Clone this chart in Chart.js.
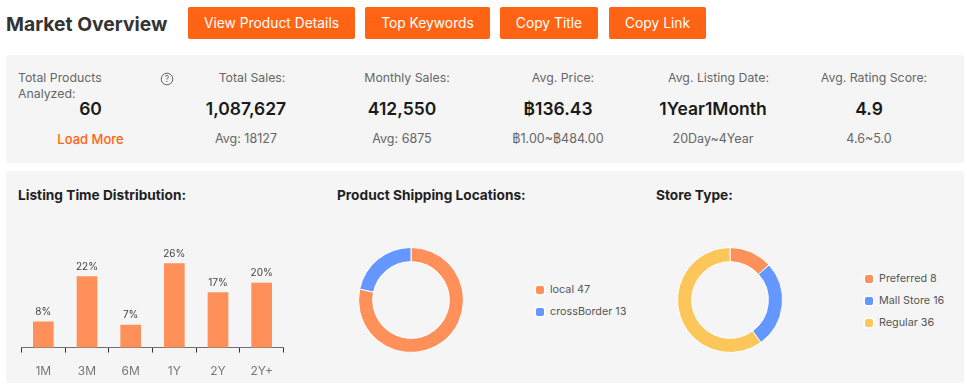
<!DOCTYPE html>
<html>
<head>
<meta charset="utf-8">
<script src="https://cdn.jsdelivr.net/npm/chart.js@4"></script>
<style>
    html, body { margin: 0; padding: 0; background: #fff; }
    body { position: relative; width: 967px; height: 392px; overflow: hidden; font-family: Inter, "Noto Sans", sans-serif; }
    .abs { position: absolute; white-space: nowrap; }
    .heading { left: 6px; top: 11px; font-size: 19.3px; line-height: 26px; font-weight: 700; color: #333; }
    .btn { position: absolute; top: 7px; height: 32px; line-height: 32px; background: #ff6414; color: #fff; font-size: 13.8px; text-align: center; border-radius: 2px; }
    .panel { position: absolute; background: #f5f5f5; border-radius: 3px; left: 6px; width: 958px; }
    .label { font-size: 12.3px; line-height: 15px; color: #666; transform: translateX(-50%); }
    .value { font-size: 17.5px; line-height: 22px; font-weight: 600; color: #1a1a1a; transform: translateX(-50%); }
    .sub { font-size: 12.5px; line-height: 16px; color: #666; transform: translateX(-50%); }
    .title { top: 187px; font-size: 13.7px; line-height: 17px; font-weight: 700; color: #1f1f1f; }
    .legend-item { font-size: 10.8px; line-height: 14px; color: #555; }
    .legend-item i { position: absolute; left: 0; top: 3px; width: 8px; height: 8px; border-radius: 2px; box-shadow: 0 0 0 1.5px #fff; }
    .legend-item span { margin-left: 14px; }
    canvas { position: absolute; }
</style>
</head>
<body>
<div class="abs heading">Market Overview</div>
<div id="buttons"></div>
<div class="panel" style="top:55px;height:108px"></div>
<div class="panel" style="top:171px;height:212px"></div>
<div id="stats"></div>

<div class="abs label" style="left:18px;top:70px;transform:none;line-height:15.5px">Total Products<br>Analyzed:</div>
<svg class="abs" style="left:160px;top:72px" width="14" height="14" viewBox="0 0 14 14">
    <circle cx="7" cy="7" r="5.8" fill="none" stroke="#666" stroke-width="1"/>
    <text x="7" y="10" font-size="8.5" text-anchor="middle" fill="#666">?</text>
</svg>

<div class="abs title" style="left:18px">Listing Time Distribution:</div>
<div class="abs title" style="left:337px">Product Shipping Locations:</div>
<div class="abs title" style="left:656px">Store Type:</div>

<canvas id="barChart" width="306" height="165" style="left:6px;top:226px"></canvas>
<canvas id="shipChart" width="110" height="110" style="left:356px;top:245px"></canvas>
<canvas id="storeChart" width="110" height="110" style="left:675px;top:245px"></canvas>
<div id="shipLegend"></div>
<div id="storeLegend"></div>

<script>
// Chart data
const timeLabels = ['1M', '3M', '6M', '1Y', '2Y', '2Y+'];
const timeShares = [8, 22, 7, 26, 17, 20];

const shipLabels = ['local', 'crossBorder'];
const shipCounts = [47, 13];

const storeLabels = ['Preferred', 'Mall Store', 'Regular'];
const storeCounts = [8, 16, 36];

const buttonLabels = ['View Product Details', 'Top Keywords', 'Copy Title', 'Copy Link'];
const statLabels = ['Total Sales:', 'Monthly Sales:', 'Avg. Price:', 'Avg. Listing Date:', 'Avg. Rating Score:'];
const statValues = ['60', '1,087,627', '412,550', '฿136.43', '1Year1Month', '4.9'];
const statSubs = ['Load More', 'Avg: 18127', 'Avg: 6875', '฿1.00~฿484.00', '20Day~4Year', '4.6~5.0'];

const ORANGE = '#ff9059';
const BLUE = '#6497ff';
const YELLOW = '#fcc65a';

// Buttons and stat row
const buttonBoxes = [[188, 167], [365, 125], [500, 98], [609, 97]];
buttonLabels.forEach((text, i) => {
    const el = document.createElement('div');
    el.className = 'btn';
    el.style.left = buttonBoxes[i][0] + 'px';
    el.style.width = buttonBoxes[i][1] + 'px';
    el.textContent = text;
    document.getElementById('buttons').appendChild(el);
});

function addText(cls, text, x, y, color) {
    const el = document.createElement('div');
    el.className = 'abs ' + cls;
    el.style.left = x + 'px';
    el.style.top = y + 'px';
    if (color) {
        el.style.color = color;
        el.style.fontSize = '13px';
        el.style.fontWeight = '500';
    }
    el.textContent = text;
    document.getElementById('stats').appendChild(el);
}
const labelX = [252, 407, 563, 718.5, 874];
const valueX = [90.5, 246, 402, 558, 713, 869];
statLabels.forEach((t, i) => addText('label', t, labelX[i], 70));
statValues.forEach((t, i) => addText('value', t, valueX[i], 98));
statSubs.forEach((t, i) => addText('sub', t, valueX[i], 130.5, i === 0 ? '#ff6414' : null));

// Percent labels above the bars
const barValueLabels = {
    id: 'barValueLabels',
    afterDatasetsDraw(chart) {
        const ctx = chart.ctx;
        const meta = chart.getDatasetMeta(0);
        ctx.save();
        ctx.font = '10px Inter, sans-serif';
        ctx.fillStyle = '#444';
        ctx.textAlign = 'center';
        ctx.textBaseline = 'bottom';
        meta.data.forEach((bar, i) => {
            ctx.fillText(timeShares[i] + '%', bar.x, bar.y - 4.5);
        });
        ctx.restore();
    }
};

new Chart(document.getElementById('barChart'), {
    type: 'bar',
    data: {
        labels: timeLabels,
        datasets: [{ data: timeShares, backgroundColor: ORANGE, barThickness: 20 }]
    },
    options: {
        responsive: false,
        animation: false,
        layout: { padding: { left: 15.5, right: 28.5, top: 15, bottom: 0 } },
        plugins: { legend: { display: false }, tooltip: { enabled: false } },
        scales: {
            x: {
                offset: true,
                border: { color: '#6e7079', width: 1 },
                grid: { drawOnChartArea: false, drawTicks: true, tickLength: 5, color: '#333' },
                ticks: { color: '#777', font: { size: 12, family: 'Inter' }, padding: 12, maxRotation: 0 }
            },
            y: { display: false, min: 0, max: 33 }
        }
    },
    plugins: [barValueLabels]
});

function makeDoughnut(id, labels, values, colors) {
    new Chart(document.getElementById(id), {
        type: 'doughnut',
        data: {
            labels: labels,
            datasets: [{ data: values, backgroundColor: colors, borderColor: '#fff', borderWidth: 1 }]
        },
        options: {
            responsive: false,
            animation: false,
            cutout: '73%',
            layout: { padding: 2 },
            plugins: { legend: { display: false }, tooltip: { enabled: false } }
        }
    });
}
makeDoughnut('shipChart', shipLabels, shipCounts, [ORANGE, BLUE]);
makeDoughnut('storeChart', storeLabels, storeCounts, [ORANGE, BLUE, YELLOW]);

function makeLegend(id, labels, values, colors, x, y) {
    const box = document.getElementById(id);
    labels.forEach((name, i) => {
        const el = document.createElement('div');
        el.className = 'abs legend-item';
        el.style.left = x + 'px';
        el.style.top = (y + i * 22) + 'px';
        el.innerHTML = '<i style="background:' + colors[i] + '"></i><span>' + name + ' ' + values[i] + '</span>';
        box.appendChild(el);
    });
}
makeLegend('shipLegend', shipLabels, shipCounts, [ORANGE, BLUE], 536, 283);
makeLegend('storeLegend', storeLabels, storeCounts, [ORANGE, BLUE, YELLOW], 865, 272);
</script>
</body>
</html>
